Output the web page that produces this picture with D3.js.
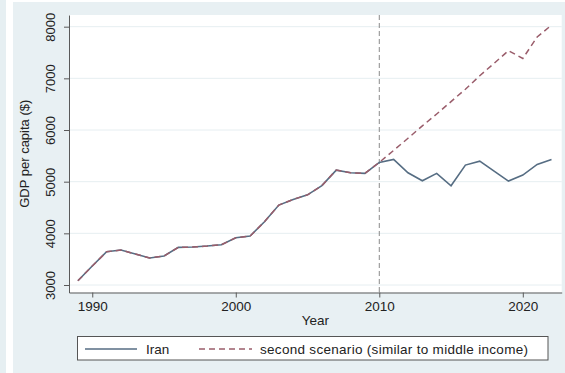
<!DOCTYPE html>
<html>
<head>
<meta charset="utf-8">
<script src="https://cdn.jsdelivr.net/npm/d3@7"></script>
<style>
  body { margin: 0; background: #fff; }
  svg { display: block; font-family: "Liberation Sans", Arial, sans-serif; }
</style>
</head>
<body>
<div id="chart"></div>
<script>
// data
var years = d3.range(1989, 2023);
var iran = [3083, 3367, 3644, 3677, 3600, 3522, 3561, 3729, 3735, 3754, 3780,
            3915, 3948, 4225, 4547, 4657, 4745, 4924, 5224, 5172, 5161, 5373,
            5431, 5172, 5017, 5161, 4920, 5321, 5398, 5205, 5011, 5128, 5334, 5431];
// second scenario follows Iran up to 2010, then diverges
var scenarioYears = d3.range(2011, 2023);
var scenarioProj = [5605, 5840, 6080, 6310, 6550, 6790, 7050, 7290, 7535, 7385, 7800, 8030];
var yTicks = [3000, 4000, 5000, 6000, 7000, 8000];
var xTicks = [1990, 2000, 2010, 2020];
var seriesNames = ["Iran", "second scenario (similar to middle income)"];

var width = 565, height = 373;
var margin = {left: 69, right: 3.3, top: 15, bottom: 80.5};

var svg = d3.select("#chart").append("svg")
  .attr("width", width)
  .attr("height", height);

// background panels
svg.append("rect").attr("width", width).attr("height", height).attr("fill", "#fff");
svg.append("rect").attr("x", 0).attr("y", 0).attr("width", 6).attr("height", height).attr("fill", "#e6eff2");
svg.append("rect").attr("x", 13).attr("y", 2).attr("width", width - 13).attr("height", height - 2).attr("fill", "#e8f0f3");

var x = d3.scaleLinear().domain([1988.38, 2022.71]).range([margin.left, width - margin.right]);
var y = d3.scaleLinear().domain([2855, 8226]).range([height - margin.bottom, margin.top]);

// plot area
svg.append("rect")
  .attr("x", x.range()[0]).attr("y", y.range()[1])
  .attr("width", x.range()[1] - x.range()[0])
  .attr("height", y.range()[0] - y.range()[1])
  .attr("fill", "#fff");

// gridlines
svg.append("g").selectAll("line").data(yTicks).join("line")
  .attr("x1", x.range()[0]).attr("x2", x.range()[1])
  .attr("y1", d => y(d)).attr("y2", d => y(d))
  .attr("stroke", "#e6eef1").attr("stroke-width", 1);

// vertical marker at 2010
svg.append("line")
  .attr("x1", x(2010)).attr("x2", x(2010))
  .attr("y1", y.range()[1]).attr("y2", y.range()[0])
  .attr("stroke", "#8a8a8a").attr("stroke-width", 1)
  .attr("stroke-dasharray", "5,3");

// y axis
var yAxis = svg.append("g")
  .attr("transform", "translate(" + x.range()[0] + ",0)")
  .call(d3.axisLeft(y).tickValues(yTicks).tickFormat(d3.format("d")).tickSize(5).tickPadding(4).tickSizeOuter(0));
yAxis.select(".domain").attr("stroke", "#5a5a5a");
yAxis.selectAll(".tick line").attr("stroke", "#5a5a5a");
yAxis.selectAll(".tick text")
  .attr("font-size", 13).attr("fill", "#222")
  .attr("transform", "rotate(-90)")
  .attr("x", 0).attr("y", -14)
  .attr("dy", 0)
  .attr("text-anchor", "middle");

// x axis
var xAxis = svg.append("g")
  .attr("transform", "translate(0," + y.range()[0] + ")")
  .call(d3.axisBottom(x).tickValues(xTicks).tickFormat(d3.format("d")).tickSize(5).tickPadding(4).tickSizeOuter(0));
xAxis.select(".domain").attr("stroke", "#5a5a5a");
xAxis.selectAll(".tick line").attr("stroke", "#5a5a5a");
xAxis.selectAll(".tick text")
  .attr("font-size", 13.5).attr("fill", "#222")
  .attr("y", 18).attr("dy", 0);

// axis titles
svg.append("text")
  .attr("x", (x.range()[0] + x.range()[1]) / 2)
  .attr("y", 325)
  .attr("text-anchor", "middle")
  .attr("font-size", 13.5).attr("fill", "#222")
  .text("Year");

svg.append("text")
  .attr("transform", "translate(29," + ((y.range()[0] + y.range()[1]) / 2) + ") rotate(-90)")
  .attr("text-anchor", "middle")
  .attr("font-size", 13).attr("fill", "#222")
  .text("GDP per capita ($)");

// lines
var iranData = years.map((yr, i) => ({year: yr, v: iran[i]}));
var cut = years.indexOf(2010);
var scenarioData = iranData.slice(0, cut + 1)
  .concat(scenarioYears.map((yr, i) => ({year: yr, v: scenarioProj[i]})));

var line = d3.line().x(d => x(d.year)).y(d => y(d.v));

var colIran = "#566d83", colScen = "#9a5d6b";

svg.append("path").datum(iranData)
  .attr("d", line).attr("fill", "none")
  .attr("stroke", colIran).attr("stroke-width", 1.6);

svg.append("path").datum(scenarioData)
  .attr("d", line).attr("fill", "none")
  .attr("stroke", colScen).attr("stroke-width", 1.5)
  .attr("stroke-dasharray", "6,4");

// legend
var legend = svg.append("g");
legend.append("rect")
  .attr("x", 77.5).attr("y", 336.5).attr("width", 470.5).attr("height", 23.5)
  .attr("fill", "#fff").attr("stroke", "#555").attr("stroke-width", 1);
legend.append("line")
  .attr("x1", 85).attr("x2", 137).attr("y1", 349).attr("y2", 349)
  .attr("stroke", colIran).attr("stroke-width", 1.5);
legend.append("text")
  .attr("x", 146).attr("y", 353.5)
  .attr("font-size", 13.5).attr("fill", "#222")
  .text(seriesNames[0]);
legend.append("line")
  .attr("x1", 199).attr("x2", 252).attr("y1", 349).attr("y2", 349)
  .attr("stroke", colScen).attr("stroke-width", 1.5)
  .attr("stroke-dasharray", "6,4");
legend.append("text")
  .attr("x", 260).attr("y", 353.5)
  .attr("font-size", 13.5).attr("fill", "#222")
  .attr("textLength", 268)
  .text(seriesNames[1]);
</script>
</body>
</html>
